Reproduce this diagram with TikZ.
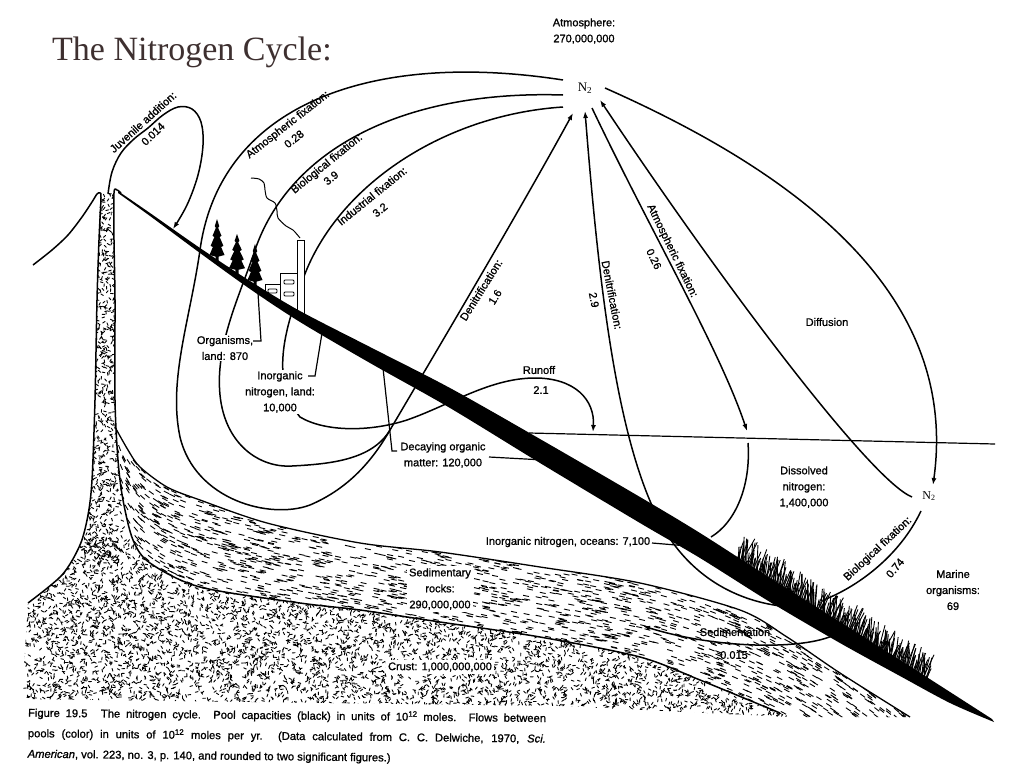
\documentclass[tikz,border=0pt]{standalone}
\usepackage{fontspec}
\setmainfont{Liberation Sans}
\newfontfamily\labf[FakeBold=1.1]{Liberation Sans}
\newfontfamily\serf{Liberation Serif}
\usetikzlibrary{arrows.meta}
\definecolor{titlec}{RGB}{62,48,48}
\newcommand{\conifer}[4]{\fill plot coordinates {({#1},{#2-#3}) ({#1+0.3*#4},{#2-0.82*#3}) ({#1+0.15*#4},{#2-0.78*#3}) ({#1+0.6*#4},{#2-0.58*#3}) ({#1+0.35*#4},{#2-0.55*#3}) ({#1+0.85*#4},{#2-0.33*#3}) ({#1+0.55*#4},{#2-0.3*#3}) ({#1+#4},{#2-0.1*#3}) ({#1+0.2*#4},{#2-0.06*#3}) ({#1+0.2*#4},{#2+4}) ({#1-0.2*#4},{#2+4}) ({#1-0.2*#4},{#2-0.06*#3}) ({#1-#4},{#2-0.1*#3}) ({#1-0.55*#4},{#2-0.3*#3}) ({#1-0.85*#4},{#2-0.33*#3}) ({#1-0.35*#4},{#2-0.55*#3}) ({#1-0.6*#4},{#2-0.58*#3}) ({#1-0.15*#4},{#2-0.78*#3}) ({#1-0.3*#4},{#2-0.82*#3})} -- cycle;}
\begin{document}
\begin{tikzpicture}[x=1pt,y=-1pt,
  flow/.style={line width=1.5pt},
  arr/.style={-{Latex[length=7pt,width=5pt]}},
  lbl/.style={font=\labf\fontsize{11}{16}\selectfont, inner sep=1pt, align=center},
  stip/.style={line width=0.9pt, line cap=round},
  seddash/.style={line width=0.9pt},
  edge/.style={line width=1.5pt, line join=round},
  leader/.style={line width=1.2pt}]
\useasboundingbox (0,0) rectangle (1024,768);
\fill[white] (0,0) rectangle (1024,768);

% title
\node[anchor=base west, font=\serf\fontsize{34}{40}\selectfont, text=titlec, inner sep=0pt] (title) at (52,60) {The Nitrogen Cycle:};

% crust stipple
\begin{scope}
\clip (100,193) -- plot[smooth] coordinates {(97,300) (95,400) (92,480) (88,515) (80,545) (62,575) (28,603)} -- (22,699) -- (560,706) -- (790,717) -- plot[smooth] coordinates {(780,713) (700,680) (640,657) (540,637) (440,622) (360,610) (300,603) (200,587) (150,563) (133,540) (123,500) (118,460) (115,400) (115,300) (113,193)} -- cycle;
\pgfmathsetseed{7}
\foreach \i in {1,...,1000}{\pgfmathsetmacro\sx{84+40*rnd}\pgfmathsetmacro\sy{188+372*rnd}\draw[stip] (\sx,\sy) -- ++({360*rnd}:2.8);}
\foreach \i in {1,...,1900}{\pgfmathsetmacro\sx{20+180*rnd}\pgfmathsetmacro\sy{540+165*rnd}\draw[stip] (\sx,\sy) -- ++({360*rnd}:2.8);}
\foreach \i in {1,...,1550}{\pgfmathsetmacro\sx{200+200*rnd}\pgfmathsetmacro\sy{585+123*rnd}\draw[stip] (\sx,\sy) -- ++({360*rnd}:2.8);}
\foreach \i in {1,...,1220}{\pgfmathsetmacro\sx{400+200*rnd}\pgfmathsetmacro\sy{615+97*rnd}\draw[stip] (\sx,\sy) -- ++({360*rnd}:2.8);}
\foreach \i in {1,...,920}{\pgfmathsetmacro\sx{600+200*rnd}\pgfmathsetmacro\sy{645+73*rnd}\draw[stip] (\sx,\sy) -- ++({360*rnd}:2.8);}
\end{scope}

% sediment dashes
\begin{scope}
\clip (115,427) -- plot[smooth] coordinates {(128,450) (140,467) (167,487) (200,500) (267,523) (360,543) (440,552) (540,567) (640,583) (740,610) (787,637) (840,673) (910,717)} -- (790,717) -- plot[smooth] coordinates {(780,713) (700,680) (640,657) (540,637) (440,622) (360,610) (300,603) (200,587) (150,563) (133,540) (123,500) (118,460) (115,427)} -- cycle;
\foreach \i in {1,...,430}{\pgfmathsetmacro\sdx{112+88*rnd}\pgfmathsetmacro\sdy{425+170*rnd}\pgfmathsetmacro\sda{12+70*exp(-(\sdx-112)/35)}\draw[seddash] (\sdx,\sdy) -- ++(\sda:6);}
\foreach \i in {1,...,690}{\pgfmathsetmacro\sdx{200+200*rnd}\pgfmathsetmacro\sdy{495+120*rnd}\pgfmathsetmacro\sda{12+70*exp(-(\sdx-112)/35)}\draw[seddash] (\sdx,\sdy) -- ++(\sda:6);}
\foreach \i in {1,...,850}{\pgfmathsetmacro\sdx{400+240*rnd}\pgfmathsetmacro\sdy{540+122*rnd}\pgfmathsetmacro\sda{12+20*max(0,(\sdx-620)/200)}\draw[seddash] (\sdx,\sdy) -- ++(\sda:6);}
\foreach \i in {1,...,1100}{\pgfmathsetmacro\sdx{640+270*rnd}\pgfmathsetmacro\sdy{578+142*rnd}\pgfmathsetmacro\sda{12+20*max(0,(\sdx-620)/200)}\draw[seddash] (\sdx,\sdy) -- ++(\sda:6);}
\end{scope}

% boundary lines
\draw[edge] plot[smooth, tension=0.5] coordinates {(33,265) (52,250) (68,235) (82,217) (92,202) (97,194) (100,193) (101,198) (99,240) (97,300) (95,400) (92,480) (88,515) (80,545) (62,575) (28,603)};
\draw[edge] plot[smooth, tension=0.5] coordinates {(121,193) (117,190) (114,193) (114,240) (115,300) (115,400) (118,460) (123,500) (133,540) (150,563) (200,587) (300,603) (360,610) (440,622) (540,637) (640,657) (700,680) (780,713)};
\draw[line width=1.3pt] plot[smooth] coordinates {(115,427) (128,450) (140,467) (167,487) (200,500) (267,523) (360,543) (440,552) (540,567) (640,583) (740,610) (787,637) (840,673) (910,717)};

% sea surface
\draw[line width=1.2pt] (529,433) -- (995,444);

% anchor coordinates at the atmospheric N2
\coordinate (n2a) at (563,80);
\coordinate (n2b) at (563,95);
\coordinate (n2c) at (563,107);
\coordinate (n2d) at (573,113);
\coordinate (n2e) at (585,111);
\coordinate (n2f) at (592,108);
\coordinate (n2g) at (600,100);
\coordinate (n2h) at (605,88);
\coordinate (dj) at (390,430);

% flows
\draw[flow,arr] plot[smooth, tension=0.6] coordinates {(108,194) (112,172) (121,153) (134,139) (148,128) (163,115) (178,107) (192,109) (201,122) (203,145) (198,175) (187,205) (173,229)};
\draw[flow] (n2a) .. controls (370,50) and (220,105) .. (200,250) .. controls (190,320) and (168,380) .. (180,437) .. controls (195,500) and (270,520) .. (310,505) .. controls (345,490) and (370,465) .. (dj);
\draw[flow] (n2b) .. controls (405,90) and (290,148) .. (255,250) .. controls (240,295) and (215,345) .. (220,395) .. controls (225,445) and (260,468) .. (292,466) .. controls (330,464) and (372,460) .. (dj);
\draw[flow,arr] (n2c) .. controls (440,115) and (330,190) .. (300,288) .. controls (285,330) and (270,380) .. (300,417) .. controls (325,432) and (370,432) .. (407,420) .. controls (450,405) and (490,378) .. (535,378) .. controls (575,378) and (595,400) .. (593,432);
\draw[flow,arr] (dj) .. controls (440,345) and (520,210) .. (n2d);
\draw[flow,arr] (790,607) .. controls (740,603) and (700,580) .. (673,543) .. controls (620,470) and (600,300) .. (n2e);
\draw[flow,arr] (n2f) .. controls (650,230) and (720,350) .. (747,431);
\draw[flow] (748,443) .. controls (751,485) and (736,522) .. (711,537);
\draw[flow,arr] (912,497) .. controls (870,480) and (720,280) .. (n2g);
\draw[flow,arr] (n2h) .. controls (790,170) and (960,290) .. (933,485);
\draw[flow] (921,511) .. controls (900,555) and (860,585) .. (826,599);
\draw[flow,arr] (838,633) .. controls (810,650) and (720,650) .. (643,626);

% factory
\begin{scope}
\clip (250,150) -- (320,150) -- (320,333) -- (300,321) -- (250,288) -- cycle;
\draw[line width=1pt, fill=white] (297,240) rectangle (304,345);
\draw[line width=1pt, fill=white] (280,273) rectangle (297,345);
\draw[line width=1pt, fill=white] (265,284) rectangle (280,345);
\draw[line width=0.9pt, rounded corners=1pt] (284,280) rectangle (294,284);
\draw[line width=0.9pt, rounded corners=1pt] (284,292) rectangle (294,296);
\draw[line width=0.9pt, rounded corners=1pt] (268,289) rectangle (277,293);
\end{scope}
\draw[line width=1pt] plot[smooth] coordinates {(300,238) (293,230) (286,226) (278,218) (277,211) (275,203) (267,198) (265,190) (264,183) (259,179) (251,178)};

% trees
\conifer{217}{259}{40}{7.5}
\conifer{237}{272}{38}{8}
\conifer{255}{284}{40}{7.5}

% continental shelf / ocean floor band
\fill plot[smooth] coordinates {(118,191) (150,213) (200,248) (250,281) (300,311) (370,347) (450,388) (540,439) (640,497) (700,533) (770,578) (840,622) (900,660) (950,692) (992,719)} -- plot[smooth] coordinates {(994,722) (950,703) (900,676) (840,643) (770,602) (700,558) (640,523) (540,463) (450,408) (370,363) (300,322) (250,289) (200,253) (150,216) (118,193)} -- cycle;

% marine grass
\foreach \i in {0,...,260}{\pgfmathsetmacro\gx{737+\i*0.73}\pgfmathsetmacro\gy{533+0.635*(\gx-700)+3}\pgfmathsetmacro\gh{9+18*rnd}\draw[line width=0.9pt] (\gx,\gy) -- ++({-60-32*rnd}:\gh);}

% labels
\node[lbl] (atm) at (584,31) {Atmosphere:\\270,000,000};
\node[font=\serf\fontsize{13}{13}\selectfont, inner sep=0.5pt] (n2atm) at (585,88) {N\textsubscript{2}};
\node[font=\serf\fontsize{12}{12}\selectfont, inner sep=0.5pt] (n2sea) at (929,496) {N\textsubscript{2}};
\node[lbl, rotate=42] (juv) at (143,122) {Juvenile addition:};
\node[lbl, rotate=44] (juvn) at (153,134) {0.014};
\node[lbl, rotate=38] (atl) at (288,125) {Atmospheric fixation:};
\node[lbl, rotate=38] (atln) at (294,139) {0.28};
\node[lbl, rotate=39] (bil) at (327,164) {Biological fixation:};
\node[lbl, rotate=39] (biln) at (331,178) {3.9};
\node[lbl, rotate=39] (ind) at (372,196) {Industrial fixation:};
\node[lbl, rotate=39] (indn) at (380,210) {3.2};
\node[lbl, rotate=58] (den1) at (481,290) {Denitrification:};
\node[lbl, rotate=58] (den1n) at (495,297) {1.6};
\node[lbl, rotate=-79] (den2) at (612,295) {Denitrification:};
\node[lbl, rotate=-79] (den2n) at (594,300) {2.9};
\node[lbl, rotate=-64] (ato) at (672,251) {Atmospheric fixation:};
\node[lbl, rotate=-64] (aton) at (654,259) {0.26};
\node[lbl] (dif) at (827,322) {Diffusion};
\node[lbl] (run) at (539,370) {Runoff};
\node[lbl] (runn) at (541,390) {2.1};
\node[lbl, fill=white] (org) at (225,348) {Organisms,\\land: 870};
\node[lbl, fill=white] (inl) at (280,392) {Inorganic\\nitrogen, land:\\10,000};
\node[lbl] (dec) at (443,455) {Decaying organic\\matter: 120,000};
\node[lbl] (dis) at (804,487) {Dissolved\\nitrogen:\\1,400,000};
\node[lbl] (ino) at (568,542) {Inorganic nitrogen, oceans: 7,100};
\node[lbl, rotate=43] (bio) at (878,549) {Biological fixation:};
\node[lbl, rotate=50] (bion) at (895,568) {0.74};
\node[lbl] (mar) at (953,590) {Marine\\organisms:\\69};
\node[lbl] (sdm) at (735,632) {Sedimentation};
\node[lbl] (sdmn) at (734,655) {0.015};
\node[lbl, fill=white, inner sep=2pt] (sed) at (440,589) {Sedimentary\\rocks:\\290,000,000};
\node[lbl, fill=white, inner sep=2pt] (cru) at (440,667) {Crust: 1,000,000,000};

% leaders
\draw[leader] (253,341) -- (261,341) -- (258,293);
\draw[leader] (308,376) -- (315,376) -- (322,333);
\draw[leader] (397,451) -- (392,451) -- (383,368);
\draw[leader] (489,457) -- (562,461);
\draw[leader] (652,543) -- (700,547);

% caption
\node[anchor=north west, inner sep=0pt, align=left, font=\labf\fontsize{11.2}{20.5}\selectfont, rotate=-0.6] (cap) at (28,707) {\makebox[518pt][s]{Figure 19.5\hspace{1.2em}The nitrogen cycle. Pool capacities (black) in units of 10\textsuperscript{12} moles. Flows between}\\ \makebox[518pt][s]{pools (color) in units of 10\textsuperscript{12} moles per yr. (Data calculated from C. C. Delwiche, 1970, \textit{Sci.}}\\ \textit{American}, vol. 223, no. 3, p. 140, and rounded to two significant figures.)};
\end{tikzpicture}
\end{document}
